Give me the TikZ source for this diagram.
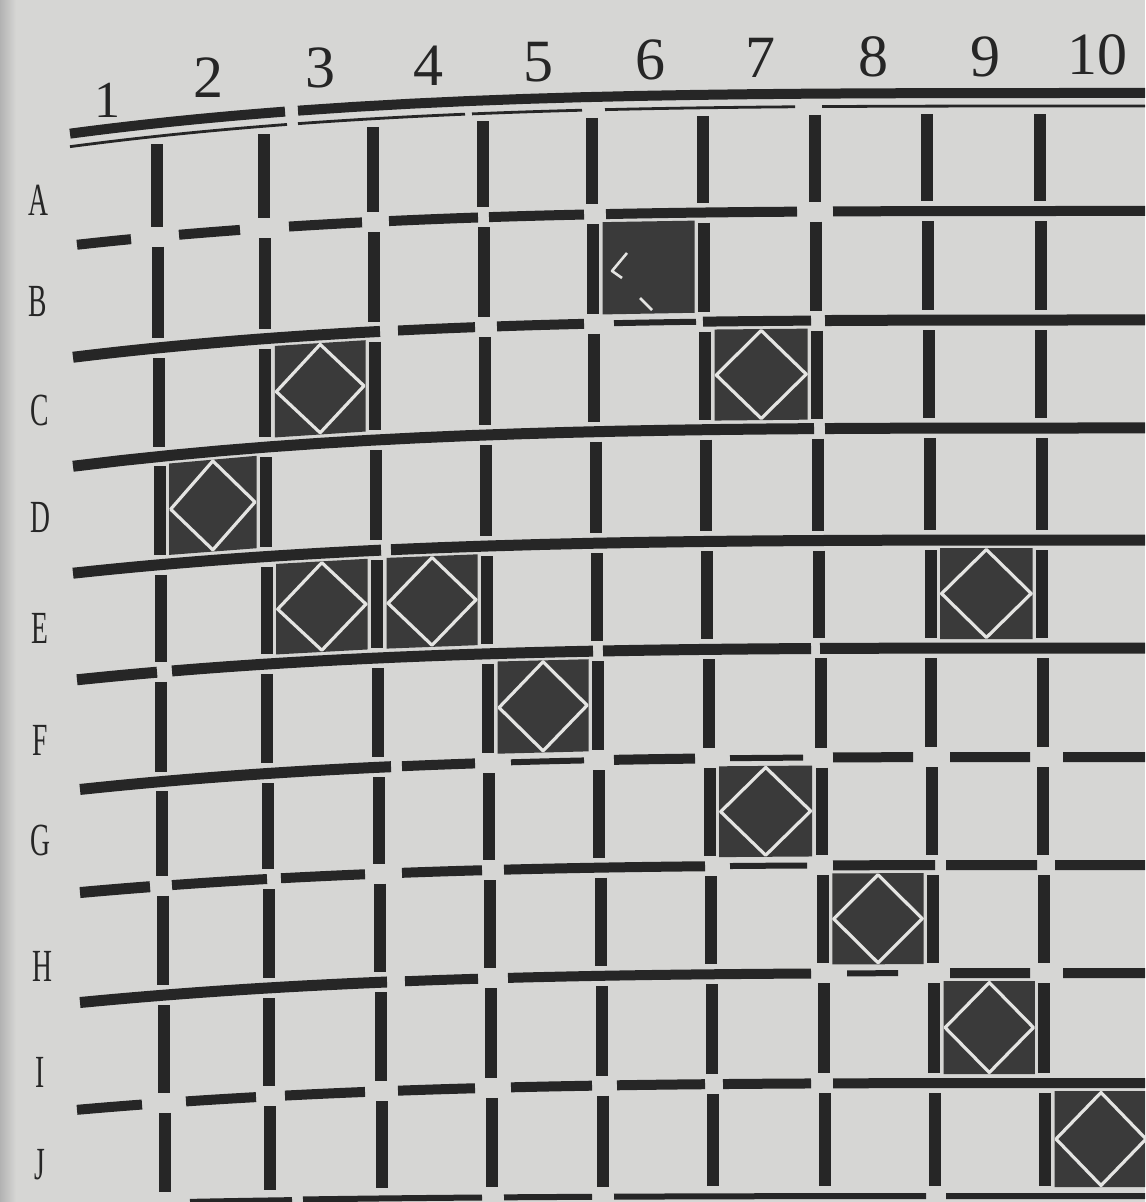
\documentclass[tikz,border=0pt]{standalone}
\usepackage{fontspec}
\setmainfont{Liberation Serif}
\definecolor{paper}{HTML}{D6D6D4}
\definecolor{ink}{HTML}{262626}
\definecolor{cellfill}{HTML}{3A3A3A}
\definecolor{gleam}{HTML}{E4E4E2}
% boundary curves: y = R + D*(1-u)^3.5, u=(x-75)/1070
\def\RL{{93,211,320,428,540,648,757,865,973,1083,1196}}
\def\DL{{40,34,37,38,33,32,33,28,30,27,8}}
% bar x positions in row A and row J
\def\XA{{157,264,373,483,592,703,815,927,1040,1152}}
\def\XJ{{165,270,382,492,603,713,825,935,1045,1157}}
\newcommand\curvY[3]{%
  \pgfmathsetmacro\qcvR{\RL[#1]}%
  \pgfmathsetmacro\qcvD{\DL[#1]}%
  \pgfmathsetmacro#3{\qcvR+\qcvD*exp(3.5*ln(max(0.0001,1-(#2-75)/1070)))}}
\newcommand\barX[3]{\pgfmathsetmacro#3{\XA[#1]+(\XJ[#1]-\XA[#1])*#2/9}}
\newcommand\hseg[5]{% boundary, x1, x2, width, offset
  \pgfmathsetmacro\qhR{\RL[#1]}\pgfmathsetmacro\qhD{\DL[#1]}%
  \draw[ink, line width=#4] plot[domain=#2:#3, samples=16]
    (\x, {#5+\qhR+\qhD*exp(3.5*ln(max(0.0001,1-(\x-75)/1070)))});}
\newcommand\darkcell[3]{% column, row index, diamond flag
  \pgfmathtruncatemacro\qjl{#1-2}\pgfmathtruncatemacro\qjr{#1-1}\pgfmathtruncatemacro\qrn{#2+1}%
  \barX{\qjl}{#2}{\qxbl}\barX{\qjr}{#2}{\qxbr}%
  \pgfmathsetmacro\qxl{\qxbl+9.5}\pgfmathsetmacro\qxr{\qxbr-9.5}%
  \pgfmathsetmacro\qxc{(\qxl+\qxr)/2}%
  \curvY{#2}{\qxl}{\qytl}\curvY{#2}{\qxr}{\qytr}\curvY{#2}{\qxc}{\qytc}%
  \curvY{\qrn}{\qxl}{\qybl}\curvY{\qrn}{\qxr}{\qybr}\curvY{\qrn}{\qxc}{\qybc}%
  \pgfmathsetmacro\qytl{\qytl+8}\pgfmathsetmacro\qytr{\qytr+8}\pgfmathsetmacro\qytc{\qytc+8}%
  \pgfmathsetmacro\qybl{\qybl-9}\pgfmathsetmacro\qybr{\qybr-9}\pgfmathsetmacro\qybc{\qybc-9}%
  \fill[cellfill] (\qxl,\qytl) -- (\qxr,\qytr) -- (\qxr,\qybr) -- (\qxl,\qybl) -- cycle;
  \ifnum#3=1
    \pgfmathsetmacro\qyl{(\qytl+\qybl)/2}\pgfmathsetmacro\qyr{(\qytr+\qybr)/2}%
    \draw[gleam, line width=1.6pt] (\qxc,\qytc+1.5) -- (\qxr-1.5,\qyr) -- (\qxc,\qybc-1.5) -- (\qxl+1.5,\qyl) -- cycle;
  \fi}
\begin{document}
\begin{tikzpicture}[x=0.5pt,y=-0.5pt, line cap=butt, line join=round,
  collab/.style={text=ink, font=\fontsize{30}{33}\selectfont, inner sep=0pt},
  rowlab/.style={text=ink, font=\fontsize{23}{26}\selectfont, xscale=0.6, inner sep=0pt}]
\useasboundingbox (0,0) rectangle (1145,1202);
\clip (0,0) rectangle (1145,1202);
\fill[paper] (0,0) rectangle (1145,1202);
\shade[left color=black!30, right color=paper] (0,0) rectangle (16,1202);

% top double rule
\foreach \qa/\qb in {70/285,298/1145} {\hseg{0}{\qa}{\qb}{5pt}{0}}
\foreach \qa/\qb in {70/287,298/465,472/582,605/795,822/1145} {\hseg{0}{\qa}{\qb}{1.4pt}{13}}

% row boundaries: boundary/x1/x2/width
\foreach \qk/\qa/\qb/\qw in {
  1/77/131/5,1/179/240/5,1/289/362/5,1/389/478/5,1/489/584/5,1/606/797/5,1/833/1145/5,
  2/73/380/5.5,2/398/475/5,2/497/584/5,2/614/696/3,2/703/811/5,2/825/1145/5.5,
  3/73/814/5.5,3/825/1145/5.5,
  4/73/381/5.5,4/391/1145/5.5,
  5/77/157/5.5,5/172/593/5.5,5/603/811/5.5,5/820/1145/5.5,
  6/80/391/5.5,6/402/475/5,6/511/584/3,6/614/695/5,6/730/803/3,6/833/913/5,6/950/1030/5,6/1063/1145/5,
  7/80/150/5.5,7/172/267/5,7/281/365/5,7/402/482/5,7/504/705/5,7/730/807/3,7/833/935/5,7/946/1037/5,7/1055/1145/5,
  8/80/387/5.5,8/405/478/5,8/508/811/5,8/847/898/3,8/950/1030/5,8/1063/1145/5,
  9/77/142/5,9/186/256/5,9/285/365/5,9/398/475/5,9/511/592/5,9/617/705/5,9/723/811/5,9/833/1145/5,
  10/190/292/2.5,10/303/482/3,10/504/592/3,10/614/926/3,10/946/1145/3}
  {\hseg{\qk}{\qa}{\qb}{\qw pt}{0}}

% vertical bars
\foreach \qr in {0,...,9}{
  \foreach \qj in {0,...,8}{
    \barX{\qj}{\qr}{\qbx}
    \pgfmathtruncatemacro\qrn{\qr+1}
    \curvY{\qr}{\qbx}{\qyt}
    \ifnum\qr=0 \pgfmathsetmacro\qyt{\qyt+21}\else\pgfmathsetmacro\qyt{\qyt+10}\fi
    \curvY{\qrn}{\qbx}{\qyb}
    \pgfmathsetmacro\qyb{\qyb-10}
    \draw[ink, line width=6pt] (\qbx,\qyt) -- (\qbx,\qyb);
  }
}

% dark cells
\darkcell{6}{1}{0}
\draw[gleam, line width=1.3pt] (627,253) -- (612,271) -- (622,278);
\draw[gleam, line width=1.3pt] (640,298) -- (652,310);
\foreach \qcc/\qrr in {3/2,7/2,2/3,3/4,4/4,9/4,5/5,7/6,8/7,9/8,10/9} {\darkcell{\qcc}{\qrr}{1}}

% column labels
\node[collab, font=\fontsize{26}{30}\selectfont] (n1) at (107,100) {1};
\node[collab] (n2) at (208,78) {2};
\node[collab] (n3) at (320,68) {3};
\node[collab] (n4) at (428,66) {4};
\node[collab] (n5) at (538,62) {5};
\node[collab] (n6) at (650,60) {6};
\node[collab] (n7) at (760,58) {7};
\node[collab] (n8) at (873,57) {8};
\node[collab] (n9) at (985,57) {9};
\node[collab] (n10) at (1097,55) {10};

% row labels
\node[rowlab] (rA) at (38,200) {A};
\node[rowlab] (rB) at (38,302) {B};
\node[rowlab] (rC) at (40,410) {C};
\node[rowlab] (rD) at (40,517) {D};
\node[rowlab] (rE) at (40,628) {E};
\node[rowlab] (rF) at (40,740) {F};
\node[rowlab] (rG) at (40,840) {G};
\node[rowlab] (rH) at (42,966) {H};
\node[rowlab] (rI) at (40,1072) {I};
\node[rowlab] (rJ) at (40,1165) {J};
\end{tikzpicture}
\end{document}
